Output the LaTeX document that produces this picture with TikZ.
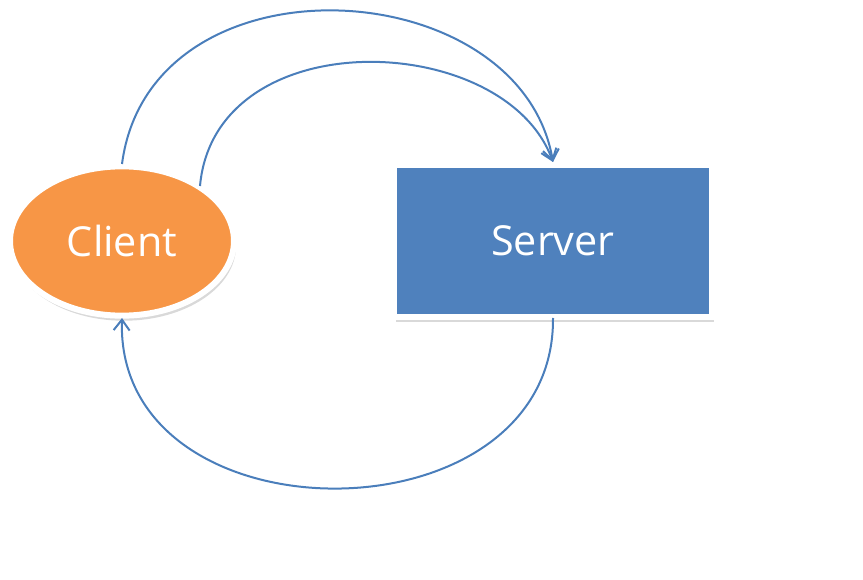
\documentclass[tikz,border=0pt]{standalone}
\usepackage{fontspec}
\setmainfont{Open Sans}
\usetikzlibrary{arrows.meta,shapes.geometric,shadows}
\definecolor{clientorange}{HTML}{F79646}
\definecolor{serverblue}{HTML}{4F81BD}
\definecolor{arcblue}{HTML}{4A7EBB}
\begin{document}
\begin{tikzpicture}[x=0.75pt,y=-0.75pt,
    box/.style={draw=white,line width=4.5pt,text=white,
      font=\fontsize{31}{36}\selectfont,
      drop shadow={shadow xshift=1.5pt,shadow yshift=-3.8pt,opacity=0.3}},
    arc/.style={arcblue,line width=1.5pt,-{Straight Barb[length=8pt,width=12pt]}}]
    \useasboundingbox (0,0) rectangle (863,580);
    \node[box,ellipse,fill=clientorange,minimum width=168pt,minimum height=112pt,inner sep=0pt]
        (client) at (122,241) {Client};
    \node[box,rectangle,fill=serverblue,minimum width=239pt,minimum height=114pt,inner sep=0pt]
        (server) at (553,241) {Server};
    \coordinate (top) at (553,162);
    \coordinate (outer) at (122,164);
    \coordinate (inner) at (200,186);
    \coordinate (back) at (553,318);
    \coordinate (tip) at (122,318);
    \draw[arc] (outer) .. controls (150,-50) and (520,-30) .. (top);
    \draw[arc] (inner) .. controls (215,20) and (505,30) .. (top);
    \draw[arc] (back) .. controls (555,545) and (115,545) .. (tip);
\end{tikzpicture}
\end{document}
